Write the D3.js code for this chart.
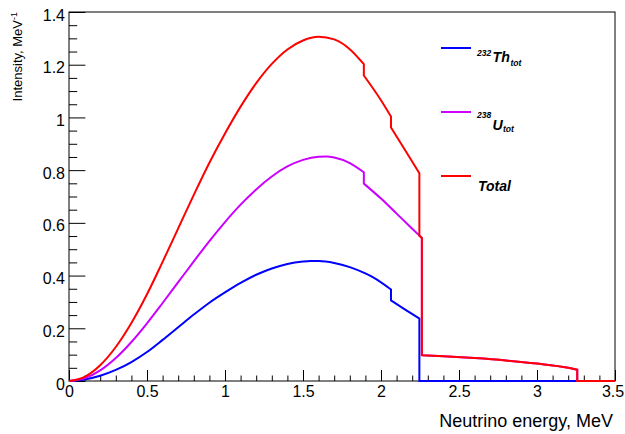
<!DOCTYPE html>
<html>
<head>
<meta charset="utf-8">
<script src="https://cdn.jsdelivr.net/npm/d3@7"></script>
<style>
  html, body { margin: 0; padding: 0; background: #fff; }
  svg { display: block; font-family: "Liberation Sans", Arial, Helvetica, sans-serif; }
</style>
</head>
<body>
<svg id="chart" width="625" height="434"></svg>
<script>
// ---------- data ----------
// Energies in MeV; a repeated energy marks a vertical step in the spectrum.
const thEnergy = [0, 0.1, 0.2, 0.3, 0.4, 0.5, 0.6, 0.7, 0.8, 0.9, 1.0, 1.1, 1.2, 1.3, 1.4, 1.5, 1.55, 1.6, 1.7, 1.8, 1.9, 1.95, 2.064, 2.064, 2.15, 2.246, 2.246, 3.5];
const thValue  = [0, 0.006, 0.020, 0.042, 0.072, 0.110, 0.156, 0.204, 0.252, 0.297, 0.336, 0.372, 0.403, 0.427, 0.444, 0.453, 0.455, 0.455, 0.448, 0.432, 0.408, 0.393, 0.347, 0.306, 0.273, 0.237, 0, 0];

const uEnergy = [0, 0.1, 0.2, 0.3, 0.4, 0.5, 0.6, 0.7, 0.8, 0.9, 1.0, 1.1, 1.2, 1.3, 1.4, 1.5, 1.6, 1.65, 1.7, 1.8, 1.89, 1.89, 2.0, 2.1, 2.2, 2.262, 2.262, 2.4, 2.6, 2.8, 3.0, 3.2, 3.258, 3.258, 3.5];
const uValue  = [0, 0.010, 0.040, 0.087, 0.148, 0.219, 0.296, 0.375, 0.454, 0.531, 0.603, 0.669, 0.727, 0.776, 0.814, 0.839, 0.851, 0.852, 0.848, 0.827, 0.792, 0.749, 0.692, 0.635, 0.578, 0.543, 0.098, 0.094, 0.087, 0.078, 0.066, 0.050, 0.043, 0, 0];

const totEnergy = [0, 0.1, 0.2, 0.3, 0.4, 0.5, 0.6, 0.7, 0.8, 0.9, 1.0, 1.1, 1.2, 1.3, 1.4, 1.5, 1.6, 1.7, 1.8, 1.89, 1.89, 2.0, 2.064, 2.064, 2.15, 2.246, 2.246, 2.262, 2.262, 2.4, 2.6, 2.8, 3.0, 3.2, 3.258, 3.258, 3.5];
const totValue  = [0, 0.016, 0.060, 0.129, 0.220, 0.329, 0.452, 0.579, 0.706, 0.828, 0.939, 1.041, 1.130, 1.203, 1.258, 1.292, 1.306, 1.296, 1.259, 1.202, 1.159, 1.065, 1.003, 0.962, 0.880, 0.788, 0.551, 0.543, 0.098, 0.094, 0.087, 0.078, 0.066, 0.050, 0.043, 0, 0];

const seriesNames  = ["232Th_tot", "238U_tot", "Total"];
const seriesColors = ["#0000ff", "#cc00ff", "#ff0000"];

const xMajorTicks = [0, 0.5, 1, 1.5, 2, 2.5, 3, 3.5];
const yMajorTicks = [0, 0.2, 0.4, 0.6, 0.8, 1, 1.2, 1.4];
const xTickLabels = ["0", "0.5", "1", "1.5", "2", "2.5", "3", "3.5"];
const yTickLabels = ["0", "0.2", "0.4", "0.6", "0.8", "1", "1.2", "1.4"];

// ---------- layout ----------
const L = 69, R = 615, T = 12, B = 381;
const svg = d3.select("#chart");
const x = d3.scaleLinear().domain([0, 3.5]).range([L, R]);
const y = d3.scaleLinear().domain([0, 1.4]).range([B, T]);

// ticks
const xMinor = d3.range(0, 36).map(i => i / 10).filter(v => !xMajorTicks.some(m => Math.abs(m - v) < 1e-9));
const yMinor = d3.range(0, 29).map(i => i * 0.05).filter(v => !yMajorTicks.some(m => Math.abs(m - v) < 1e-9));

const gx = svg.append("g").attr("transform", `translate(0,${B})`)
  .call(d3.axisBottom(x).tickValues(xMajorTicks).tickSize(-11).tickPadding(4.5)
    .tickFormat((d, i) => xTickLabels[i]));
const gxm = svg.append("g").attr("transform", `translate(0,${B})`)
  .call(d3.axisBottom(x).tickValues(xMinor).tickSize(-5.5).tickFormat(""));
const gy = svg.append("g").attr("transform", `translate(${L},0)`)
  .call(d3.axisLeft(y).tickValues(yMajorTicks).tickSize(-16.4).tickPadding(4)
    .tickFormat((d, i) => yTickLabels[i]));
const gym = svg.append("g").attr("transform", `translate(${L},0)`)
  .call(d3.axisLeft(y).tickValues(yMinor).tickSize(-8.2).tickFormat(""));

[gx, gxm, gy, gym].forEach(g => {
  g.select(".domain").remove();
  g.selectAll("line").attr("stroke", "#000").attr("stroke-width", 1);
  g.selectAll("text").attr("font-family", "Liberation Sans, Arial, sans-serif")
    .attr("font-size", 16).attr("fill", "#000");
});
gy.selectAll("text").attr("dy", "0.5em");
// keep the last x label inside the window
gx.selectAll(".tick").filter(d => d === 3.5).select("text").attr("dx", -2.5);

// frame
svg.append("rect").attr("x", L).attr("y", T).attr("width", R - L).attr("height", B - T)
  .attr("fill", "none").attr("stroke", "#000").attr("stroke-width", 1);

// ---------- curves ----------
function pathFor(es, vs) {
  const pts = es.map((e, i) => [e, vs[i]]);
  const runs = [];
  let cur = [pts[0]];
  for (let i = 1; i < pts.length; i++) {
    if (pts[i][0] === pts[i - 1][0]) { runs.push(cur); cur = [pts[i]]; }
    else cur.push(pts[i]);
  }
  runs.push(cur);
  const line = d3.line().x(d => x(d[0])).y(d => y(d[1])).curve(d3.curveMonotoneX);
  return runs.map((r, i) => {
    const d = r.length > 1 ? line(r) : `M${x(r[0][0])},${y(r[0][1])}`;
    return i ? d.replace(/^M/, "L") : d;
  }).join("");
}

const data = [[thEnergy, thValue], [uEnergy, uValue], [totEnergy, totValue]];
data.forEach((s, i) => {
  svg.append("path").attr("d", pathFor(s[0], s[1]))
    .attr("fill", "none").attr("stroke", seriesColors[i]).attr("stroke-width", 2)
    .attr("stroke-linejoin", "miter");
});

// ---------- legend ----------
const legY = [48, 112, 176];
legY.forEach((ly, i) => {
  svg.append("line").attr("x1", 441).attr("x2", 471).attr("y1", ly).attr("y2", ly)
    .attr("stroke", seriesColors[i]).attr("stroke-width", 2);
});
const legFont = "Liberation Sans, Arial, sans-serif";
function legText(xx, yy, txt, size) {
  return svg.append("text").attr("x", xx).attr("y", yy).attr("font-family", legFont)
    .attr("font-weight", "bold").attr("font-style", "italic").attr("font-size", size)
    .attr("fill", "#000").text(txt);
}
legText(477, 55.5, "232", 8.5);
legText(492.5, 62.3, "Th", 14.2);
legText(510.5, 65.7, "tot", 8.6);
legText(477, 118.3, "238", 8.5);
legText(492.5, 130, "U", 14.2);
legText(503, 131.5, "tot", 8.6);
legText(478, 190.7, "Total", 14);

// ---------- axis titles ----------
svg.append("text").attr("x", 613).attr("y", 427).attr("text-anchor", "end")
  .attr("font-size", 18).attr("fill", "#000").text("Neutrino energy, MeV");
const yt = svg.append("text").attr("transform", "translate(22,12) rotate(-90)")
  .attr("text-anchor", "end").attr("font-size", 13).attr("fill", "#000");
yt.append("tspan").text("Intensity, MeV");
yt.append("tspan").attr("dy", -5).attr("font-size", 9).text("-1");
</script>
</body>
</html>
